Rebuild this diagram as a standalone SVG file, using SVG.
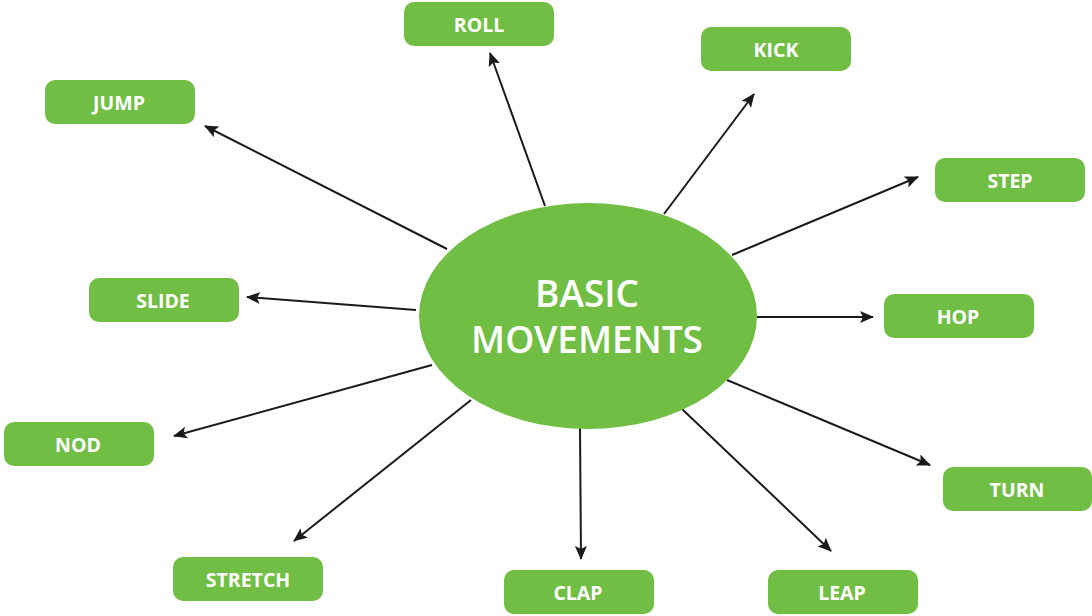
<svg xmlns="http://www.w3.org/2000/svg" width="1092" height="616" viewBox="0 0 1092 616">
  <style>
    .box { fill: #70bf44; }
    .lbl { font-family: "Open Sans", "Liberation Sans", sans-serif; font-weight: bold; font-size: 19.5px; fill: #ffffff; text-anchor: middle; dominant-baseline: central; }
    .hub { font-family: "Open Sans", "Liberation Sans", sans-serif; font-weight: 600; font-size: 37px; fill: #ffffff; text-anchor: middle; }
    .edge { stroke: #1a1a1a; stroke-width: 2; fill: none; marker-end: url(#head); }
  </style>
  <defs>
    <!-- filled arrowhead with a slight notch at the back -->
    <marker id="head" viewBox="0 0 14 12" refX="13" refY="6" markerWidth="14" markerHeight="12" orient="auto" markerUnits="userSpaceOnUse">
      <path d="M0,0 L14,6 L0,12 L3,6 Z" fill="#1a1a1a"/>
    </marker>
  </defs>
  <rect width="1092" height="616" fill="#ffffff"/>

  <g id="connectors">
    <line class="edge" x1="545" y1="206" x2="490" y2="53"/>
    <line class="edge" x1="664" y1="214" x2="754" y2="94"/>
    <line class="edge" x1="447" y1="249" x2="205" y2="126"/>
    <line class="edge" x1="732" y1="255" x2="918" y2="177"/>
    <line class="edge" x1="416" y1="310" x2="247" y2="297"/>
    <line class="edge" x1="757" y1="317" x2="873" y2="317"/>
    <line class="edge" x1="432" y1="365" x2="174" y2="436"/>
    <line class="edge" x1="727" y1="380" x2="930" y2="465"/>
    <line class="edge" x1="471" y1="400" x2="294" y2="541"/>
    <line class="edge" x1="580" y1="428" x2="581" y2="559"/>
    <line class="edge" x1="682" y1="409" x2="831" y2="551"/>
  </g>

  <g id="hub">
    <ellipse cx="588" cy="316" rx="169" ry="113" fill="#70bf44"/>
    <text class="hub" x="587" y="307">BASIC</text>
    <text class="hub" x="587" y="353">MOVEMENTS</text>
  </g>

  <g id="roll"><rect class="box" x="404" y="2" width="150" height="44" rx="10"/><text class="lbl" x="479" y="24">ROLL</text></g>
  <g id="kick"><rect class="box" x="701" y="27" width="150" height="44" rx="10"/><text class="lbl" x="776" y="49">KICK</text></g>
  <g id="jump"><rect class="box" x="45" y="80" width="150" height="44" rx="10"/><text class="lbl" x="119" y="102">JUMP</text></g>
  <g id="step"><rect class="box" x="935" y="158" width="150" height="44" rx="10"/><text class="lbl" x="1010" y="180">STEP</text></g>
  <g id="slide"><rect class="box" x="89" y="278" width="150" height="44" rx="10"/><text class="lbl" x="163" y="300">SLIDE</text></g>
  <g id="hop"><rect class="box" x="884" y="294" width="150" height="44" rx="10"/><text class="lbl" x="958" y="316">HOP</text></g>
  <g id="nod"><rect class="box" x="4" y="422" width="150" height="44" rx="10"/><text class="lbl" x="78" y="444">NOD</text></g>
  <g id="turn"><rect class="box" x="943" y="467" width="149" height="44" rx="10"/><text class="lbl" x="1017" y="489">TURN</text></g>
  <g id="stretch"><rect class="box" x="173" y="557" width="150" height="44" rx="10"/><text class="lbl" x="248" y="579">STRETCH</text></g>
  <g id="clap"><rect class="box" x="504" y="570" width="150" height="44" rx="10"/><text class="lbl" x="578" y="592">CLAP</text></g>
  <g id="leap"><rect class="box" x="768" y="570" width="150" height="44" rx="10"/><text class="lbl" x="842" y="592">LEAP</text></g>
</svg>
